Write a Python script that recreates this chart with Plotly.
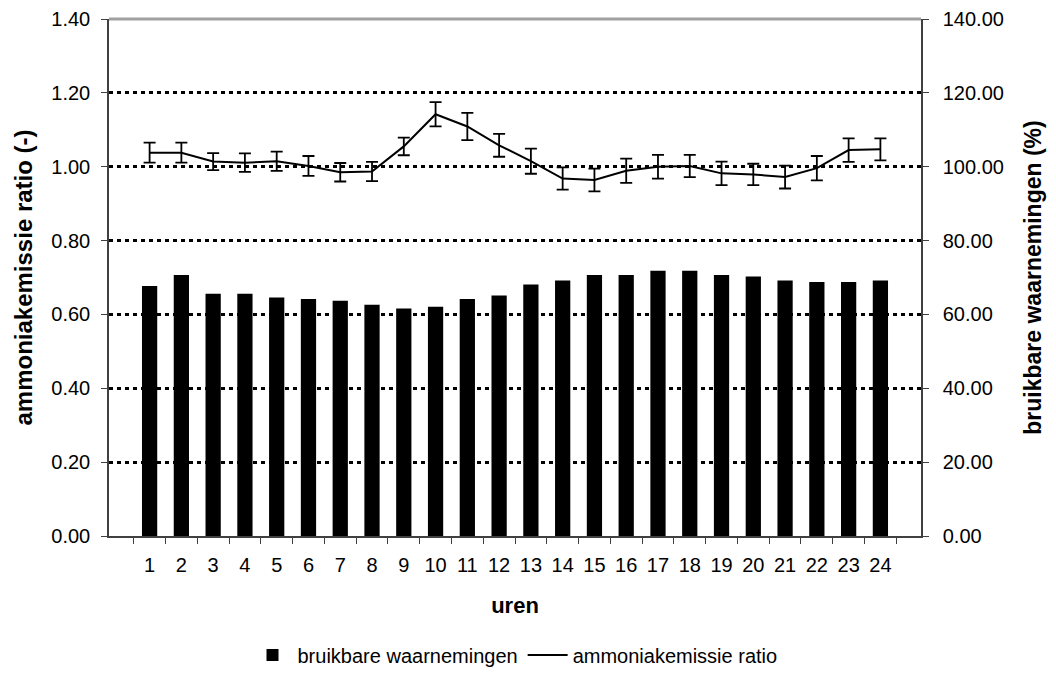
import plotly.graph_objects as go

uren = [str(i) for i in range(1, 25)]
bruikbaar = [67.7, 70.7, 65.6, 65.6, 64.6, 64.2, 63.7, 62.6, 61.6, 62.1, 64.2, 65.1,
             68.1, 69.2, 70.7, 70.7, 71.8, 71.8, 70.7, 70.3, 69.2, 68.75, 68.75, 69.2]
ratio = [1.038, 1.038, 1.014, 1.011, 1.015, 1.002, 0.985, 0.987, 1.055, 1.142, 1.109, 1.058,
         1.015, 0.968, 0.964, 0.989, 1.000, 1.002, 0.982, 0.979, 0.972, 0.996, 1.045, 1.047]
fout = [0.027, 0.027, 0.023, 0.025, 0.026, 0.027, 0.025, 0.026, 0.024, 0.033, 0.037, 0.031,
        0.034, 0.030, 0.031, 0.033, 0.032, 0.030, 0.032, 0.029, 0.031, 0.033, 0.032, 0.030]

FONT = "Liberation Sans, Arial, sans-serif"
AX = "#404040"

fig = go.Figure()
fig.add_trace(go.Bar(
    x=uren, y=bruikbaar, name="bruikbare waarnemingen", yaxis="y2",
    marker=dict(color="black", line=dict(width=0)),
))
fig.add_trace(go.Scatter(
    x=uren, y=ratio, name="ammoniakemissie ratio", mode="lines", yaxis="y",
    line=dict(color="black", width=2),
    error_y=dict(type="data", array=fout, visible=True, color="black", thickness=1.8, width=6),
))

fig.update_layout(
    width=1040, height=662,
    margin=dict(l=101, r=127, t=11, b=134, autoexpand=False),
    paper_bgcolor="white", plot_bgcolor="white",
    font=dict(family=FONT, size=20, color="black"),
    bargap=0.52,
    showlegend=True,
    legend=dict(orientation="h", x=0.5, xanchor="center", y=-0.230, yanchor="middle",
                font=dict(size=20), traceorder="normal", itemwidth=40),
    xaxis=dict(
        type="category", showgrid=False, showline=True, linecolor=AX, linewidth=1.5,
        ticks="outside", tickson="boundaries", ticklen=6, tickcolor=AX,
        ticklabelstandoff=10, tickfont=dict(size=20), automargin=False,
        title=dict(text="<b>uren</b>", font=dict(size=22), standoff=23),
    ),
    yaxis=dict(
        range=[0, 1.4], dtick=0.2, tickformat=".2f", side="left",
        showline=True, linecolor=AX, linewidth=1.5,
        ticks="outside", ticklen=6, tickcolor=AX, ticklabelstandoff=7,
        showgrid=True, gridcolor="black", gridwidth=3, griddash="4px,4px",
        zeroline=False, tickfont=dict(size=20), automargin=False,
        title=dict(text="<b>ammoniakemissie ratio (-)</b>", font=dict(size=24), standoff=12),
    ),
    yaxis2=dict(
        range=[0, 140], dtick=20, tickformat=".2f", side="right", overlaying="y",
        showline=True, linecolor=AX, linewidth=1.5,
        ticks="outside", ticklen=6, tickcolor=AX, ticklabelstandoff=10,
        showgrid=False, zeroline=False, tickfont=dict(size=20), automargin=False,
        title=dict(text="<b>bruikbare waarnemingen (%)</b>", font=dict(size=23), standoff=22),
    ),
    shapes=[dict(type="line", xref="paper", yref="paper", x0=0, x1=1, y0=1, y1=1,
                 line=dict(color="#a0a0a0", width=3))],
)

fig.write_html("out.html")
